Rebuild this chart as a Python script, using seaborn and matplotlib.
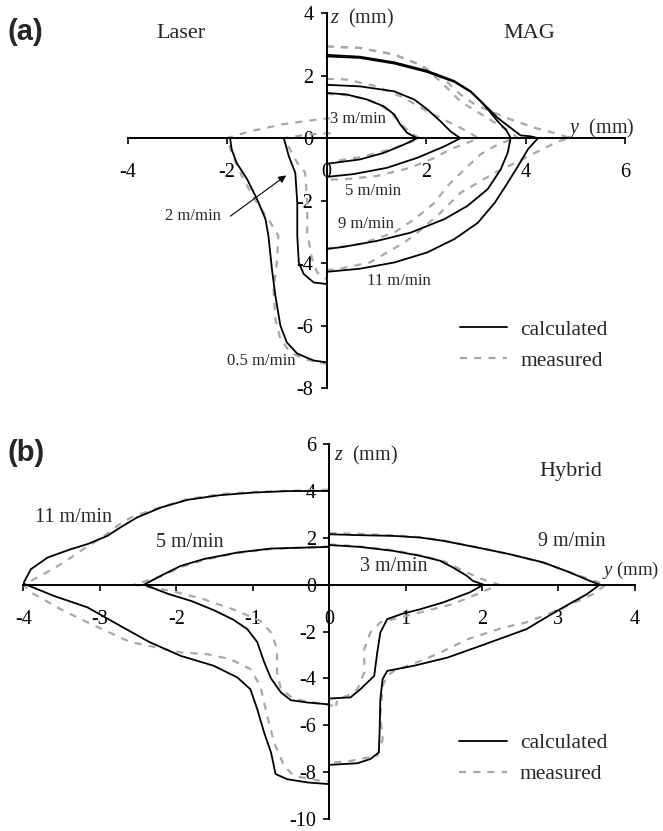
import matplotlib
matplotlib.use("Agg")
import matplotlib.pyplot as plt
from matplotlib.lines import Line2D
import seaborn as sns

# ---- (a) Laser / MAG : calculated profiles (y, z in mm) ----
mag3_y = [0, 0.4, 0.81, 1.15, 1.36, 1.48, 1.62, 1.82, 1.56, 1.15, 0.67, 0]
mag3_z = [1.45, 1.4, 1.24, 1.02, 0.76, 0.44, 0.17, 0, -0.2, -0.47, -0.68, -0.82]
mag5_y = [0, 0.67, 1.36, 1.76, 2.02, 2.29, 2.49, 2.69, 2.37, 1.82, 1.21, 0.54, 0]
mag5_z = [1.71, 1.66, 1.5, 1.24, 0.93, 0.54, 0.22, 0, -0.26, -0.63, -0.95, -1.15, -1.24]
mag9_y = [0, 0.67, 1.36, 2.02, 2.57, 2.9, 3.08, 3.24, 3.44, 3.6, 3.67, 3.7,
          3.64, 3.5, 3.24, 2.83, 2.37, 1.68, 1.01, 0.34, 0]
mag9_z = [2.62, 2.57, 2.39, 2.12, 1.8, 1.48, 1.2, 0.93, 0.54, 0.28, 0.1, 0,
          -0.47, -1.0, -1.63, -2.17, -2.59, -3.03, -3.29, -3.48, -3.55]
mag11_y = [0, 0.67, 1.36, 2.02, 2.57, 2.9, 3.17, 3.44, 3.7, 3.9, 4.1, 4.25,
           4.05, 3.85, 3.64, 3.38, 3.04, 2.57, 2.02, 1.36, 0.67, 0]
mag11_z = [2.67, 2.61, 2.43, 2.16, 1.83, 1.5, 1.08, 0.65, 0.33, 0.09, 0.06, 0,
           -0.35, -0.89, -1.43, -2.07, -2.71, -3.23, -3.66, -3.98, -4.18, -4.28]
las05_y = [-1.94, -1.91, -1.81, -1.6, -1.4, -1.23, -1.17, -1.1, -1.03, -0.93, -0.8, -0.59, -0.26, 0]
las05_z = [0, -0.35, -0.79, -1.31, -1.95, -2.59, -3.13, -4.19, -5.05, -6.0, -6.54, -6.9, -7.12, -7.18]
las2_y = [-0.86, -0.76, -0.63, -0.59, -0.59, -0.56, -0.46, -0.26, 0]
las2_z = [0, -0.58, -1.11, -2.07, -3.13, -3.98, -4.35, -4.62, -4.67]

# ---- (a) measured profiles ----
mag3m_y = [0, 0.4, 0.8, 1.1, 1.3, 1.5, 1.7, 1.88, 1.7, 1.3, 0.7, 0.1]
mag3m_z = [1.42, 1.38, 1.25, 1.05, 0.8, 0.45, 0.15, 0, -0.12, -0.35, -0.6, -0.75]
mag5m_y = [0, 0.4, 1.01, 1.56, 2.02, 2.43, 2.83, 3.05, 2.83, 2.49, 2.17, 1.68, 1.01, 0.4, 0]
mag5m_z = [1.9, 1.88, 1.66, 1.29, 0.86, 0.54, 0.22, 0, -0.15, -0.35, -0.63, -0.95, -1.21, -1.31, -1.33]
mag9m_y = [0, 0.67, 1.36, 1.88, 2.29, 2.49, 2.69, 2.9, 3.18, 3.44, 3.68, 3.85,
           3.5, 3.1, 2.77, 2.43, 2.17, 1.76, 1.36, 0.67, 0.2, 0]
mag9m_z = [2.94, 2.89, 2.68, 2.35, 1.82, 1.5, 1.18, 0.97, 0.7, 0.44, 0.22, 0,
           -0.15, -0.51, -1.0, -1.53, -2.07, -2.6, -3.02, -3.39, -3.5, -3.52]
mag11m_y = [0, 0.67, 1.36, 1.88, 2.37, 2.69, 2.98, 3.3, 3.7, 4.19, 4.6, 4.9,
            4.66, 4.19, 3.79, 3.38, 3.04, 2.69, 2.29, 1.82, 1.56, 0.87, 0.2, 0]
mag11m_z = [2.94, 2.89, 2.68, 2.35, 1.88, 1.4, 1.08, 0.86, 0.6, 0.33, 0.16, 0,
            -0.1, -0.47, -0.79, -1.11, -1.43, -1.75, -2.39, -3.03, -3.34, -3.98, -4.2, -4.22]
las05m_y = [0.08, -0.18, -0.87, -1.54, -2.01, -1.88, -1.67, -1.4, -1.13, -0.97, -1.0,
            -1.07, -1.03, -0.93, -0.73, -0.46, 0, 0.15]
las05m_z = [0.64, 0.6, 0.45, 0.22, 0, -0.58, -1.32, -2.07, -2.7, -3.13, -3.98,
            -4.83, -5.79, -6.43, -6.86, -7.07, -7.23, -7.15]
las2m_y = [0.08, -0.38, -0.87, -0.72, -0.59, -0.43, -0.39, -0.39, -0.29, -0.19, 0]
las2m_z = [0.16, 0.12, 0, -0.4, -0.79, -1.11, -2.07, -3.03, -3.88, -4.3, -4.51]

# ---- (b) Hybrid : calculated ----
h11_y = [0, -0.55, -0.98, -1.42, -1.85, -2.2, -2.51, -2.73, -2.9, -3.16, -3.38, -3.68, -3.9, -4.0,
         -3.6, -3.16, -2.73, -2.35, -1.94, -1.51, -1.2, -1.03, -0.94, -0.85, -0.76, -0.7, -0.55, -0.28, 0]
h11_z = [4.0, 3.99, 3.93, 3.82, 3.62, 3.29, 2.87, 2.44, 2.08, 1.73, 1.51, 1.16, 0.66, 0.05,
         -0.48, -0.97, -1.76, -2.45, -3.04, -3.46, -3.96, -4.46, -5.31, -6.31, -7.16, -8.08, -8.3, -8.44, -8.51]
h5_y = [0, -0.76, -1.2, -1.64, -1.94, -2.2, -2.42, -2.1, -1.8, -1.5, -1.25, -1.07, -0.94,
        -0.85, -0.76, -0.63, -0.5, -0.28, 0]
h5_z = [1.61, 1.54, 1.37, 1.09, 0.8, 0.38, 0, -0.4, -0.7, -1.1, -1.5, -1.9, -2.45,
        -3.3, -4.0, -4.6, -4.93, -5.03, -5.11]
h9_y = [0, 0.4, 0.84, 1.19, 1.49, 1.93, 2.36, 2.8, 3.15, 3.41, 3.54, 3.37, 3.1, 2.8, 2.58,
        1.98, 1.55, 1.11, 0.76, 0.7, 0.67, 0.66, 0.65, 0.54, 0.37, 0]
h9_z = [2.15, 2.11, 2.08, 2.01, 1.87, 1.59, 1.3, 0.95, 0.52, 0.16, 0, -0.41, -0.9, -1.47, -1.9,
        -2.61, -3.11, -3.46, -3.68, -4.03, -4.88, -6.31, -7.16, -7.44, -7.62, -7.69]
h3_y = [0, 0.4, 0.84, 1.19, 1.45, 1.62, 1.8, 1.88, 2.02, 1.84, 1.49, 1.19, 0.95, 0.76,
        0.67, 0.63, 0.59, 0.41, 0.28, 0]
h3_z = [1.69, 1.61, 1.44, 1.23, 1.02, 0.73, 0.38, 0.16, 0, -0.33, -0.76, -1.05, -1.25, -1.47,
        -2.04, -2.89, -3.89, -4.46, -4.81, -4.86]

# ---- (b) measured ----
h11m_y = [0, -0.9, -1.4, -1.85, -2.29, -2.59, -2.77, -2.94, -3.25, -3.47, -3.77, -4.0, -3.9,
          -3.51, -3.16, -2.6, -1.94, -1.59, -1.29, -1.03, -0.9, -0.81, -0.72, -0.59, -0.46, -0.11, 0]
h11m_z = [4.05, 3.97, 3.87, 3.65, 3.22, 2.87, 2.51, 2.08, 1.44, 0.95, 0.38, 0, -0.33,
          -1.05, -1.61, -2.45, -2.89, -2.97, -3.18, -3.6, -4.32, -5.6, -6.73, -7.73, -8.16, -8.37, -8.4]
h5m_y = [0, -0.76, -1.2, -1.64, -1.94, -2.2, -2.55, -2.07, -1.64, -1.2, -0.9, -0.76, -0.68,
         -0.68, -0.63, -0.46, -0.2, 0.06]
h5m_z = [1.63, 1.52, 1.35, 1.05, 0.75, 0.35, 0, -0.26, -0.62, -1.12, -1.55, -2.04, -2.75,
         -3.75, -4.46, -4.88, -5.03, -5.17]
h9m_y = [0, 0.4, 0.84, 1.2, 1.5, 1.93, 2.36, 2.8, 3.15, 3.45, 3.62, 3.45, 3.02, 2.58, 2.28,
         1.81, 1.46, 1.2, 0.85, 0.76, 0.7, 0.67, 0.7, 0.63, 0.28, 0.06]
h9m_z = [2.2, 2.17, 2.1, 2.02, 1.88, 1.6, 1.3, 0.93, 0.52, 0.18, 0, -0.41, -1.05, -1.61, -1.83,
         -2.33, -2.89, -3.25, -3.68, -3.89, -4.32, -5.6, -6.59, -7.3, -7.52, -7.59]
h3m_y = [0, 0.4, 0.84, 1.19, 1.5, 1.75, 1.95, 2.1, 2.22, 1.93, 1.62, 1.27, 0.84, 0.67, 0.54,
         0.46, 0.46, 0.37, 0.24, 0.11, 0.09]
h3m_z = [1.72, 1.63, 1.47, 1.25, 1.0, 0.6, 0.3, 0.12, 0, -0.41, -0.83, -1.12, -1.47, -1.61, -2.04,
         -2.75, -3.75, -4.46, -4.74, -4.88, -5.17]

top_calc = [(mag3_y, mag3_z), (mag5_y, mag5_z), (mag9_y, mag9_z), (mag11_y, mag11_z),
            (las05_y, las05_z), (las2_y, las2_z)]
top_meas = [(mag3m_y, mag3m_z), (mag5m_y, mag5m_z), (mag9m_y, mag9m_z), (mag11m_y, mag11m_z),
            (las05m_y, las05m_z), (las2m_y, las2m_z)]
bot_calc = [(h11_y, h11_z), (h5_y, h5_z), (h9_y, h9_z), (h3_y, h3_z)]
bot_meas = [(h11m_y, h11m_z), (h5m_y, h5m_z), (h9m_y, h9m_z), (h3m_y, h3m_z)]

top_xticks = [-4, -2, 0, 2, 4, 6]
top_yticks = [-8, -6, -4, -2, 0, 2, 4]
bot_xticks = [-4, -3, -2, -1, 0, 1, 2, 3, 4]
bot_yticks = [-10, -8, -6, -4, -2, 0, 2, 4, 6]
legend_labels = ["calculated", "measured"]

sns.set_theme(style="white")
plt.rcParams['font.family'] = ['Liberation Serif', 'DejaVu Serif']
plt.rcParams['mathtext.fontset'] = 'custom'
plt.rcParams['mathtext.rm'] = 'Liberation Serif'
plt.rcParams['mathtext.it'] = 'Liberation Serif:italic'
plt.rcParams['axes.unicode_minus'] = False

CALC = dict(color='black', linewidth=1.3)
MEAS = dict(color='#a8a8a8', linewidth=1.6, linestyle=(0, (3.2, 3.2)))

fig = plt.figure(figsize=(6.63, 8.31), dpi=100)
ax1 = fig.add_axes([0.1926, 0.5331, 0.7501, 0.4509])
ax2 = fig.add_axes([0.0351, 0.0144, 0.9226, 0.4513])


def style_axes(ax, xlim, ylim, xt, yt, xpad):
    ax.set_xlim(*xlim)
    ax.set_ylim(*ylim)
    ax.set_facecolor('none')
    for s in ['top', 'right']:
        ax.spines[s].set_visible(False)
    for s in ['left', 'bottom']:
        ax.spines[s].set_position(('data', 0))
        ax.spines[s].set_color('black')
        ax.spines[s].set_linewidth(1.4)
    ax.set_xticks(xt)
    ax.set_yticks(yt)
    ax.set_xticklabels([str(v) for v in xt])
    ax.set_yticklabels([str(v) for v in yt])
    ax.tick_params(axis='x', direction='out', length=4.5, width=1.2, pad=xpad,
                   labelsize=14.5, bottom=True, colors='black')
    ax.tick_params(axis='y', direction='out', length=4.5, width=1.2, pad=5,
                   labelsize=14.5, left=True, colors='black')
    ax.grid(False)
    ax.set_xlabel('')
    ax.set_ylabel('')


for ys, zs in top_meas:
    sns.lineplot(x=ys, y=zs, sort=False, estimator=None, ax=ax1, **MEAS)
for ys, zs in top_calc:
    sns.lineplot(x=ys, y=zs, sort=False, estimator=None, ax=ax1, **CALC)
for ys, zs in bot_meas:
    sns.lineplot(x=ys, y=zs, sort=False, estimator=None, ax=ax2, **MEAS)
for ys, zs in bot_calc:
    sns.lineplot(x=ys, y=zs, sort=False, estimator=None, ax=ax2, **CALC)

style_axes(ax1, (-4, 6), (-8, 4), top_xticks, top_yticks, 13)
style_axes(ax2, (-4, 4), (-10, 6), bot_xticks, bot_yticks, 14)

# labels panel (a)
ax1.text(-2.93, 3.35, "Laser", fontsize=16, ha='center', va='center')
ax1.text(4.07, 3.35, "MAG", fontsize=16, ha='center', va='center')
ax1.text(0.07, 3.83, r"$z$  (mm)", fontsize=14.5, ha='left', va='center')
ax1.text(4.86, 0.34, r"$y$  (mm)", fontsize=14.5, ha='left', va='center')
ax1.text(0.07, 0.63, "3 m/min", fontsize=12, ha='left', va='center')
ax1.text(0.94, -1.68, "5 m/min", fontsize=12, ha='center', va='center')
ax1.text(0.79, -2.74, "9 m/min", fontsize=12, ha='center', va='center')
ax1.text(1.46, -4.57, "11 m/min", fontsize=12, ha='center', va='center')
ax1.text(-1.32, -7.15, "0.5 m/min", fontsize=12, ha='center', va='center')
ax1.text(-2.68, -2.48, "2 m/min", fontsize=12, ha='center', va='center')
ax1.annotate('', xy=(-0.77, -1.14), xytext=(-1.98, -2.55),
             arrowprops=dict(arrowstyle='-|>', color='black', lw=0.8, mutation_scale=11))

# labels panel (b)
ax2.text(3.16, 4.81, "Hybrid", fontsize=16, ha='center', va='center')
ax2.text(0.07, 5.5, r"$z$  (mm)", fontsize=14.5, ha='left', va='center')
ax2.text(3.57, 0.59, r"$y$ (mm)", fontsize=13.5, ha='left', va='center')
ax2.text(-3.34, 2.87, "11 m/min", fontsize=14.5, ha='center', va='center')
ax2.text(-1.82, 1.8, "5 m/min", fontsize=14.5, ha='center', va='center')
ax2.text(3.17, 1.83, "9 m/min", fontsize=14.5, ha='center', va='center')
ax2.text(0.84, 0.76, "3 m/min", fontsize=14.5, ha='center', va='center')

handles = [Line2D([], [], **CALC), Line2D([], [], **MEAS)]
for ax, anchor in [(ax1, (0.651, 0.205)), (ax2, (0.699, 0.252))]:
    ax.legend(handles, legend_labels, loc='upper left', bbox_to_anchor=anchor,
              frameon=False, fontsize=15.5, handlelength=2.2, handletextpad=0.6,
              labelspacing=0.5, borderaxespad=0)

fig.text(0.0106, 0.9615, "(a)", fontsize=21, fontweight='bold',
         family=['Liberation Sans', 'DejaVu Sans'], ha='left', va='center')
fig.text(0.0106, 0.455, "(b)", fontsize=21, fontweight='bold',
         family=['Liberation Sans', 'DejaVu Sans'], ha='left', va='center')

fig.savefig("out.png", dpi=100)
